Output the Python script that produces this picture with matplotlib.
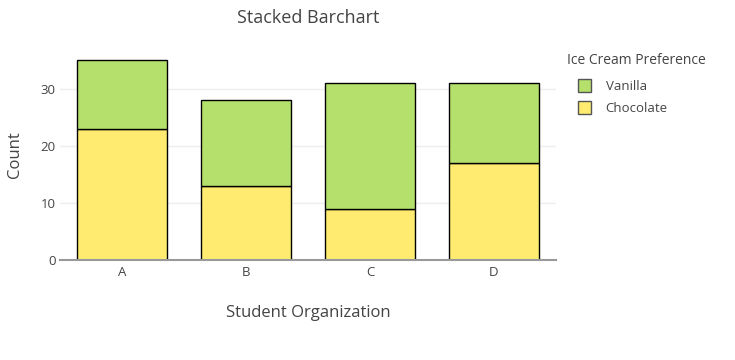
import matplotlib.pyplot as plt
from matplotlib.patches import Patch

plt.rcParams['font.family'] = ['Open Sans', 'DejaVu Sans']

# Data
orgs = ["A", "B", "C", "D"]
chocolate = [23, 13, 9, 17]
vanilla = [12, 15, 22, 14]

VANILLA_COLOR = "#b5e06c"
CHOC_COLOR = "#ffeb70"

fig = plt.figure(figsize=(7.35, 3.6), dpi=100)
ax = fig.add_axes([60 / 735, 100 / 360, 496 / 735, 210 / 360])

x = range(len(orgs))
ax.bar(x, chocolate, width=0.72, color=CHOC_COLOR, edgecolor="black", linewidth=1, zorder=3)
ax.bar(x, vanilla, width=0.72, bottom=chocolate, color=VANILLA_COLOR, edgecolor="black", linewidth=1, zorder=3)

ax.set_xlim(-0.5, 3.5)
ax.set_ylim(0, 36.84)
ax.set_xticks(list(x))
ax.set_xticklabels(orgs)
ax.set_yticks([0, 10, 20, 30])
ax.grid(axis="y", color="#eeeeee", linewidth=1, zorder=0)
for s in ["top", "right", "left"]:
    ax.spines[s].set_visible(False)
ax.spines["bottom"].set_color("#999999")
ax.spines["bottom"].set_linewidth(1.5)
ax.spines["bottom"].set_zorder(4)
ax.tick_params(axis="both", length=0, labelsize=9.5, colors="#444444", pad=4)
ax.tick_params(axis="y", pad=3)

ax.set_xlabel("Student Organization", fontsize=12, color="#444444", labelpad=19)
ax.set_ylabel("Count", fontsize=12, color="#444444", labelpad=13)
fig.text(308 / 735, 1 - 18 / 360, "Stacked Barchart", ha="center", va="center", fontsize=13, color="#444444")

# legend title placed separately, entries below
fig.text(567 / 735, 1 - 60 / 360, "Ice Cream Preference", ha="left", va="center",
         fontsize=10, color="#444444")
handles = [Patch(facecolor=VANILLA_COLOR, edgecolor="#555555", linewidth=1, label="Vanilla"),
           Patch(facecolor=CHOC_COLOR, edgecolor="#555555", linewidth=1, label="Chocolate")]
leg = fig.legend(handles=handles, loc="upper left",
                 bbox_to_anchor=(578 / 735, 1 - 79 / 360), frameon=False, fontsize=9.5,
                 handlelength=1.0, handleheight=1.1, handletextpad=1.1,
                 labelspacing=0.65, borderaxespad=0, borderpad=0)
for t in leg.get_texts():
    t.set_color("#444444")

fig.savefig("out.png", dpi=100)
